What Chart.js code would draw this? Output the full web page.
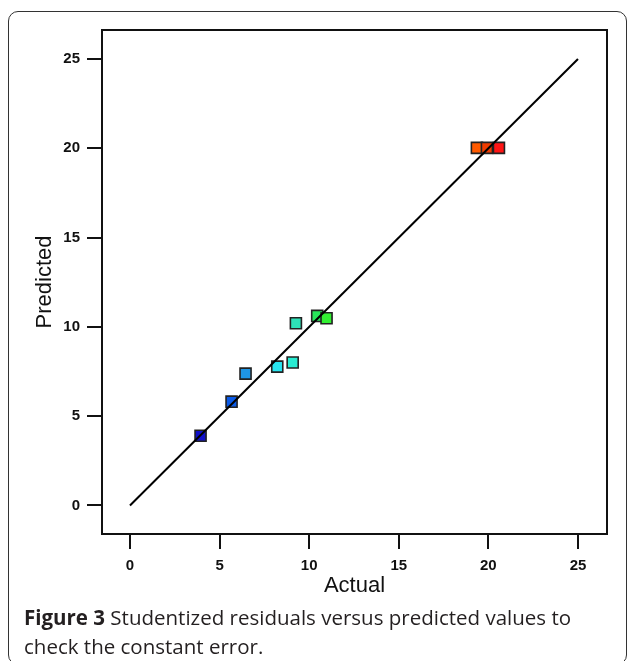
<!DOCTYPE html>
<html>
<head>
<meta charset="utf-8">
<script src="https://cdn.jsdelivr.net/npm/chart.js@4.4.1/dist/chart.umd.min.js"></script>
<style>
  body { margin:0; background:#fff; overflow:hidden; }
  #wrap { position:relative; width:629px; height:661px; overflow:hidden; }
  #box { position:absolute; left:8px; top:11px; width:617px; height:652px;
         border:1.6px solid #333; border-radius:10px; }
  #plot { position:absolute; left:0; top:0; }
  #caption { position:absolute; left:24px; top:603px; width:600px; white-space:nowrap;
             font-family:"Open Sans", sans-serif; font-size:20.5px; line-height:28.6px; color:#231f20; }
  #caption b { font-weight:700; }
</style>
</head>
<body>
<div id="wrap">
  <div id="box"></div>
  <canvas id="plot" width="629" height="606"></canvas>
  <div id="caption"><b>Figure 3</b> Studentized residuals versus predicted values to<br>check the constant error.</div>
</div>
<script>
// actual vs predicted runs
var actual    = [3.94, 5.67, 6.45, 8.22, 9.08, 9.26, 10.45, 10.97, 19.36, 19.92, 20.59];
var predicted = [3.90, 5.81, 7.38, 7.77, 8.00, 10.20, 10.61, 10.48, 20.02, 20.02, 20.02];
var pointColors = ['#1010c8','#0a5ae6','#1e96e6','#28e6f0','#28ecd2','#2ee2b8',
                   '#28e65a','#32f032','#ff5a00','#f03c00','#ff1414'];
// y = x reference line
var refLine = [0, 25];
var tickValues = [0, 5, 10, 15, 20, 25];

var points = actual.map(function(a, i){ return {x:a, y:predicted[i]}; });

// box round the plot area
var frame = {
  id:'frame',
  afterDraw: function(c){
    var a = c.chartArea, ctx = c.ctx;
    ctx.save();
    ctx.strokeStyle = '#111';
    ctx.lineWidth = 2;
    ctx.strokeRect(a.left, a.top, a.right - a.left, a.bottom - a.top);
    ctx.restore();
  }
};

function keepTicks(s){
  s.ticks = tickValues.map(function(v){ return {value:v}; });
}

var tickFont = {family:'"Liberation Sans", Arial, sans-serif', size:15, weight:'bold'};
var titleFont = {family:'"Liberation Sans", Arial, sans-serif', size:22};

var ctx = document.getElementById('plot').getContext('2d');
var chart = new Chart(ctx, {
  type:'scatter',
  data:{
    datasets:[{
      data: refLine.map(function(v){ return {x:v, y:v}; }),
      showLine:true,
      borderColor:'#000',
      borderWidth:2,
      pointRadius:0
    },{
      data: points,
      pointStyle:'rect',
      pointRadius:7.8,
      pointHoverRadius:7.8,
      pointBackgroundColor: pointColors,
      pointBorderColor:'#222',
      pointBorderWidth:1.6
    }]
  },
  plugins:[frame],
  options:{
    responsive:false,
    animation:false,
    layout:{ padding:{left:20, top:30, right:22, bottom:2} },
    plugins:{ legend:{display:false}, tooltip:{enabled:false} },
    scales:{
      x:{
        type:'linear', min:-1.56, max:26.62,
        afterBuildTicks: keepTicks,
        afterFit: function(s){ s.height = 70; },
        border:{display:false},
        grid:{ drawOnChartArea:false, drawTicks:true, tickLength:15, color:'#111', lineWidth:2 },
        ticks:{ font:tickFont, color:'#111', padding:8, maxRotation:0 },
        title:{ display:true, text:'Actual', font:titleFont, color:'#111', padding:{top:0, bottom:5} }
      },
      y:{
        type:'linear', min:-1.6, max:26.62,
        afterBuildTicks: keepTicks,
        afterFit: function(s){ s.width = 82; },
        border:{display:false},
        grid:{ drawOnChartArea:false, drawTicks:true, tickLength:15, color:'#111', lineWidth:2 },
        ticks:{ font:tickFont, color:'#111', padding:7 },
        title:{ display:true, text:'Predicted', font:titleFont, color:'#111', padding:{top:11.3, bottom:0} }
      }
    }
  }
});
</script>
</body>
</html>
